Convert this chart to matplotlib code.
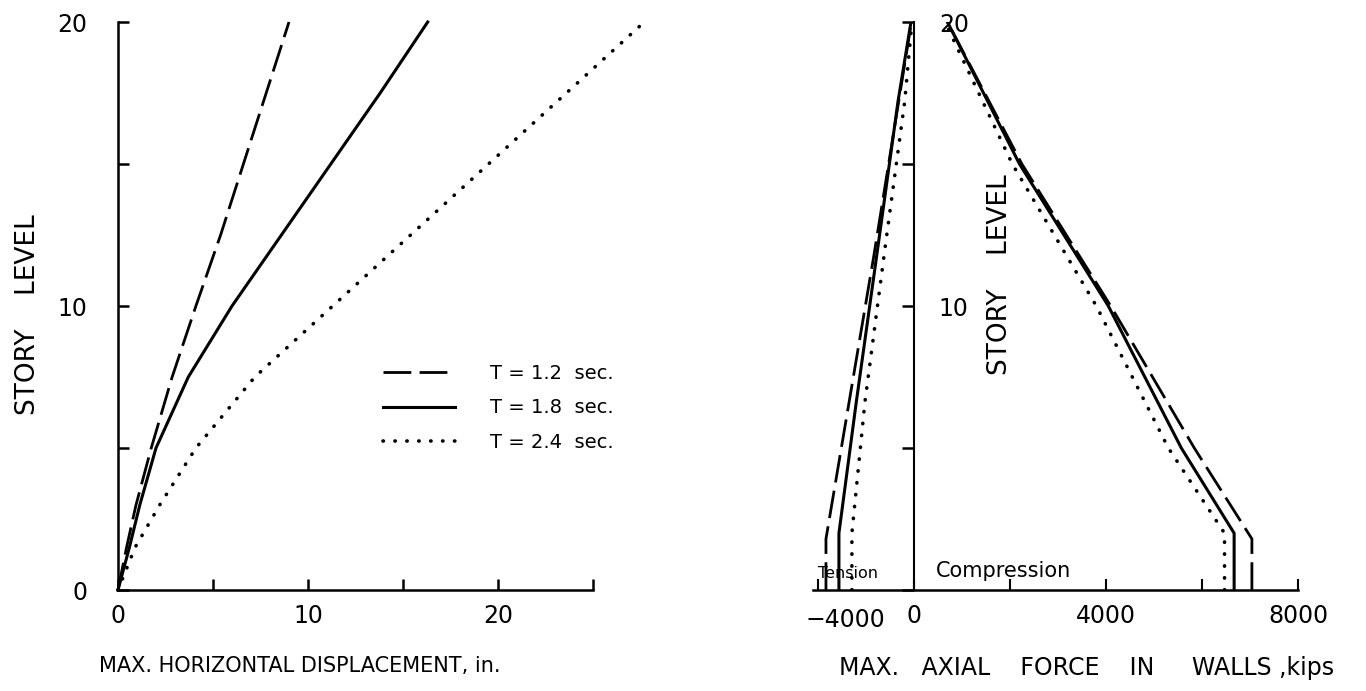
import matplotlib
matplotlib.use("Agg")
import matplotlib.pyplot as plt
from matplotlib.transforms import blended_transform_factory

plt.rcParams['font.family'] = ['DejaVu Sans']

# ---------------- data ----------------
# Left panel: max horizontal displacement (in.) vs story level
story_levels = [0, 1.5, 3, 5, 7.5, 10, 12.5, 15, 17.5, 20]
disp_T12 = [0, 0.45, 0.95, 1.75, 2.85, 4.1, 5.4, 6.6, 7.8, 9.0]
disp_T18 = [0, 0.6, 1.15, 2.0, 3.7, 6.0, 8.6, 11.2, 13.8, 16.3]
disp_T24 = [0, 0.9, 2.2, 4.1, 7.2, 11.3, 15.4, 19.5, 23.6, 27.7]

# Right panel: max axial force in walls (kips) vs story level
tens_T12_lev = [0, 1.8, 6.6, 11.8, 20]
tens_T12 = [-1830, -1830, -1350, -830, -50]
tens_T18_lev = [0, 2, 6.6, 12.3, 17.2, 20]
tens_T18 = [-1560, -1560, -1200, -730, -330, -60]
tens_T24_lev = [0, 2, 6.6, 12.3, 17.2, 20]
tens_T24 = [-1290, -1290, -1020, -580, -190, -40]

comp_T12_lev = [0, 1.8, 5, 10, 15, 20]
comp_T12 = [7040, 7040, 5840, 4100, 2250, 700]
comp_T18_lev = [0, 2, 5, 10, 15, 20]
comp_T18 = [6670, 6670, 5570, 4050, 2200, 700]
comp_T24_lev = [0, 2, 5, 10, 15, 20]
comp_T24 = [6470, 6470, 5300, 3800, 2050, 650]

legend_labels = ["T = 1.2  sec.", "T = 1.8  sec.", "T = 2.4  sec."]

disp_ticks = [0, 5, 10, 15, 20, 25]
disp_ticklabels = ["0", "", "10", "", "20", ""]
level_ticks = [0, 5, 10, 15, 20]
level_ticklabels = ["0", "", "10", "", "20"]
force_ticks = [-2000, 0, 2000, 4000, 6000, 8000]
force_ticklabels = ["", "0", "", "4000", "", "8000"]

# ---------------- styles ----------------
DASH = dict(color="black", lw=2.0, linestyle=(0, (10, 3)))
SOLID = dict(color="black", lw=2.2, linestyle="-")
DOT = dict(color="black", lw=2.6, linestyle=(0, (0.1, 3.2)), dash_capstyle="round")

fig = plt.figure(figsize=(13.66, 6.91), dpi=100)
W, H = 1366, 691

# ---------------- left panel ----------------
ax1 = fig.add_axes([118 / W, (H - 590) / H, (593 - 118) / W, (590 - 22) / H])
l1, = ax1.plot(disp_T12, story_levels, clip_on=False, **DASH)
l2, = ax1.plot(disp_T18, story_levels, clip_on=False, **SOLID)
l3, = ax1.plot(disp_T24, story_levels, clip_on=False, **DOT)
ax1.set_xlim(0, 25)
ax1.set_ylim(0, 20)
for s in ["top", "right"]:
    ax1.spines[s].set_visible(False)
for s in ["left", "bottom"]:
    ax1.spines[s].set_linewidth(1.8)
ax1.set_xticks(disp_ticks)
ax1.set_xticklabels(disp_ticklabels)
ax1.set_yticks(level_ticks)
ax1.set_yticklabels(level_ticklabels)
ax1.tick_params(axis="both", direction="in", length=8, width=1.8, labelsize=17)
ax1.tick_params(axis="x", pad=10)
ax1.tick_params(axis="y", pad=22)
ax1.set_xlabel("MAX. HORIZONTAL DISPLACEMENT, in.", fontsize=15)
ax1.xaxis.set_label_coords(0.383, -0.116)
ax1.set_ylabel("STORY    LEVEL", fontsize=19)
ax1.yaxis.set_label_coords(-0.162, 0.485)

leg = ax1.legend([l1, l2, l3], legend_labels, loc="upper left",
                 bbox_to_anchor=(0.542, 0.412), frameon=False, fontsize=14,
                 handlelength=3.7, handletextpad=1.8, labelspacing=0.8,
                 borderaxespad=0.0)

# ---------------- right panel ----------------
ax2 = fig.add_axes([813 / W, (H - 590) / H, (1298 - 813) / W, (590 - 22) / H])
ax2.plot(tens_T12, tens_T12_lev, **DASH)
ax2.plot(tens_T18, tens_T18_lev, **SOLID)
ax2.plot(tens_T24, tens_T24_lev, **DOT)
ax2.plot(comp_T12, comp_T12_lev, **DASH)
ax2.plot(comp_T18, comp_T18_lev, **SOLID)
ax2.plot(comp_T24, comp_T24_lev, **DOT)
ax2.set_xlim(-2100, 8000)
ax2.set_ylim(0, 20)
ax2.spines["top"].set_visible(False)
ax2.spines["left"].set_visible(False)
ax2.spines["right"].set_position(("data", 0))
ax2.spines["right"].set_linewidth(1.5)
ax2.spines["bottom"].set_linewidth(1.8)
ax2.yaxis.tick_right()
ax2.set_yticks(level_ticks)
ax2.set_yticklabels(["", "", "10", "", "20"])
ax2.tick_params(axis="y", direction="in", length=9, width=1.8, labelsize=17, pad=18)
ax2.set_xticks(force_ticks)
ax2.set_xticklabels(force_ticklabels)
ax2.tick_params(axis="x", direction="in", length=8, width=1.5, labelsize=17, pad=10)
ax2.set_xlabel("MAX.   AXIAL    FORCE    IN     WALLS ,kips", fontsize=17)
ax2.xaxis.set_label_coords(0.565, -0.116)

tr = blended_transform_factory(ax2.transData, ax2.transAxes)
ax2.text(-1430, -0.032, "\u22124000", transform=tr, ha="center", va="top", fontsize=17)
ax2.text(-1990, 0.015, "Tension", transform=tr, ha="left", va="bottom", fontsize=11.5)
ax2.text(450, 0.015, "Compression", transform=tr, ha="left", va="bottom", fontsize=15)
ax2.text(1790, 11.1, "STORY    LEVEL", rotation=90, ha="center", va="center", fontsize=19)

fig.savefig("out.png", dpi=100)
